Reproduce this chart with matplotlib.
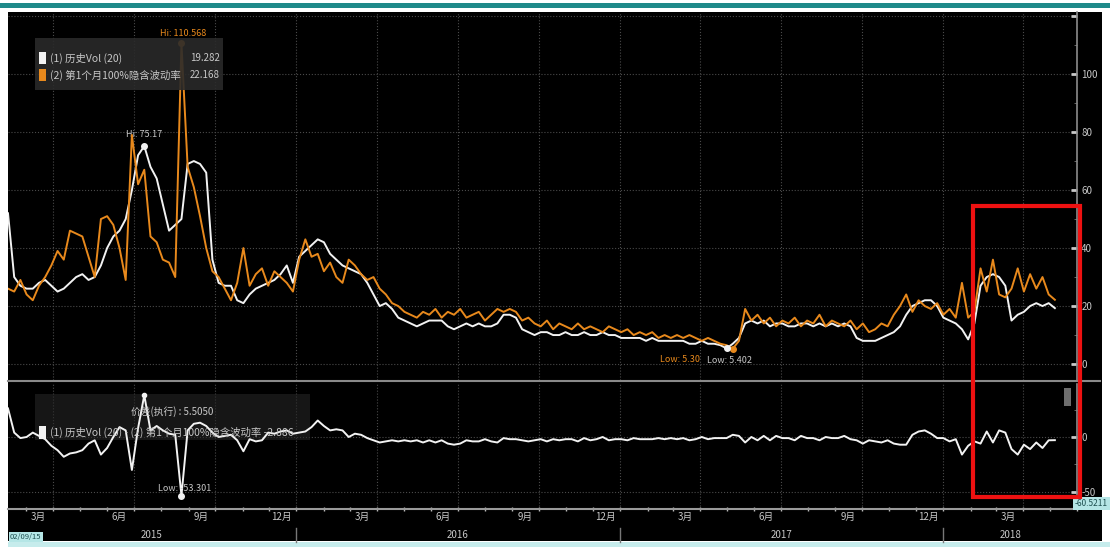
import numpy as np
import pandas as pd
import matplotlib
matplotlib.use('Agg')
import matplotlib.pyplot as plt
import matplotlib.dates as mdates
import matplotlib.transforms as mtransforms
from matplotlib.patches import Rectangle
from matplotlib.lines import Line2D

plt.rcParams['font.family'] = ['Noto Sans CJK SC', 'DejaVu Sans']

# 每周一个点, 2015-02-09 起
dates = pd.date_range('2015-02-09', periods=170, freq='7D')

# (1) 历史Vol (20)
hist_vol = [52, 30, 27, 26, 26, 28, 29, 27, 25, 26,
            28, 30, 31, 29, 30, 34, 40, 44, 46, 50,
            60, 72, 75.17, 68, 64, 55, 46, 48, 50, 69,
            70, 69, 66, 36, 28, 27, 27, 22, 21, 24,
            26, 27, 28, 29, 31, 34, 28, 37, 39, 41,
            43, 42, 38, 36, 34, 33, 32, 31, 28, 24,
            20, 21, 19, 16, 15, 14, 13, 14, 15, 15,
            15, 13, 12, 13, 14, 13, 14, 13, 13, 14,
            17, 17, 16, 12, 11, 10, 11, 11, 10, 10,
            11, 10, 10, 11, 10, 10, 11, 10, 10, 9,
            9, 9, 9, 8, 9, 8, 8, 8, 8, 8,
            7, 7, 8, 7, 7, 6.5, 5.402, 7, 9, 14,
            15, 14, 15, 13, 14, 14, 13, 13, 14, 14,
            13, 14, 13, 14, 13, 14, 13, 9, 8, 8,
            8, 9, 10, 11, 13, 17, 20, 21, 22, 22,
            20, 16, 15, 14, 12, 8.5, 14, 27, 30, 31,
            30, 27, 15, 17, 18, 20, 21, 20, 21, 19.282]

# (2) 第1个月100%隐含波动率
impl_vol = [26, 25, 29, 24, 22, 27, 30, 34, 39, 36,
            46, 45, 44, 37, 30, 50, 51, 48, 40, 29,
            79, 62, 67, 44, 42, 36, 35, 30, 110.568, 68,
            61, 51, 40, 32, 30, 26, 22, 28, 40, 27,
            31, 33, 27, 32, 30, 28, 25, 36, 43, 37,
            38, 32, 35, 30, 28, 36, 34, 31, 29, 30,
            26, 24, 21, 20, 18, 17, 16, 18, 17, 19,
            16, 18, 17, 19, 16, 17, 18, 15, 17, 19,
            18, 19, 18, 15, 16, 14, 13, 15, 12, 14,
            13, 12, 14, 12, 13, 12, 11, 13, 12, 11,
            12, 10, 11, 10, 11, 9, 10, 9, 10, 9,
            10, 9, 8, 9, 8, 7, 6.5, 5.30, 8, 19,
            15, 17, 14, 16, 13, 15, 14, 16, 13, 15,
            14, 17, 13, 15, 14, 13, 15, 12, 14, 11,
            12, 14, 13, 17, 20, 24, 18, 22, 20, 19,
            21, 17, 19, 16, 28, 16, 18, 33, 25, 36,
            24, 23, 26, 33, 25, 31, 26, 30, 24, 22.168]

# (1) - (2)
spread = [26, 4, -1, 0, 4, 1, -2, -8, -12, -18,
          -15, -14, -12, -6, -3, -16, -10, 0, 9, 6,
          -30, 8, 38, 6, 10, 6, 3, 2, -53.301, 6,
          12, 13, 10, 4, 0, 1, 2, -3, -13, -2,
          -4, -3, 4, 3, 5, 6, 3, 4, 5, 9,
          15, 10, 6, 7, 6, 0, 3, 2, -1, -3,
          -5, -4, -3, -4, -3, -4, -3, -5, -3, -5,
          -3, -6, -7, -6, -3, -4, -4, -2, -4, -5,
          -1, -2, -2, -3, -4, -3, -2, -4, -2, -3,
          -2, -2, -4, -1, -3, -2, 0, -3, -2, -2,
          -3, -1, -2, -2, -2, -1, -2, -1, -2, -1,
          -3, -2, 0, -2, -1, -1, -1, 2, 1, -5,
          0, -3, 1, -3, 1, -1, -1, -3, 1, -1,
          -1, -3, 0, -1, -1, 1, -2, -3, -6, -3,
          -4, -5, -3, -6, -7, -7, 2, 5, 6, 3,
          -1, -1, -4, -2, -16, -8, -4, -6, 5, -5,
          6, 4, -11, -16, -7, -11, -5, -10, -3, -2.886]

month_labels = ['3月', '6月', '9月', '12月']
years = [2015, 2016, 2017, 2018]

W, H = 1110, 547
def fx(px):
    return px / W
def fy(py):
    return 1 - py / H

ORANGE = '#e8891c'
WHITE = '#f2f2f2'
GRID = '#4a4a4a'
TXT = '#c8c8c8'

fig = plt.figure(figsize=(11.1, 5.47), dpi=100, facecolor='white')
# 背景
fig.add_artist(Rectangle((fx(8), fy(541)), fx(1102 - 8), (541 - 12) / H, transform=fig.transFigure,
                         facecolor='black', edgecolor='none', zorder=0))
fig.add_artist(Rectangle((fx(0), fy(8)), 1, 5 / H, transform=fig.transFigure,
                         facecolor='#1f8a8a', edgecolor='none', zorder=0))
fig.add_artist(Rectangle((fx(8), fy(547)), 1, 5 / H, transform=fig.transFigure,
                         facecolor='#c6ecec', edgecolor='none', zorder=0))

x0, x1 = pd.Timestamp('2015-02-09'), pd.Timestamp('2018-06-01')
quarters = pd.date_range('2015-04-01', '2018-04-01', freq='QS')

ax1 = fig.add_axes([fx(8), fy(380), fx(1069), 368 / H])
ax2 = fig.add_axes([fx(8), fy(509), fx(1069), 125 / H])
for ax in (ax1, ax2):
    ax.set_facecolor('none')
    ax.set_xlim(x0, x1)
    for s in ['top', 'left', 'bottom']:
        ax.spines[s].set_visible(False)
    ax.spines['right'].set_color('#8c8c8c')
    ax.spines['right'].set_linewidth(1.2)
    ax.yaxis.tick_right()
    for q in quarters:
        ax.axvline(q, color=GRID, ls=':', lw=0.8, zorder=1)

# 上图
ax1.set_ylim(-5.5, 121.4)
ax1.set_yticks([0, 20, 40, 60, 80, 100, 120])
ax1.set_yticklabels(['0', '20', '40', '60', '80', '100', ''])
ax1.set_yticks(np.arange(10, 120, 20), minor=True)
ax1.grid(axis='y', which='major', color=GRID, ls=':', lw=0.8)
ax1.tick_params(axis='y', which='major', colors=TXT, labelsize=7, direction='in', length=4, width=2, pad=3)
ax1.tick_params(axis='y', which='minor', color='#777777', direction='in', length=2)
ax1.tick_params(axis='x', which='both', length=0, labelbottom=False)

ax1.plot(dates, hist_vol, color=WHITE, lw=1.4, zorder=3)
ax1.plot(dates, impl_vol, color=ORANGE, lw=1.4, zorder=4)

i_hi_o = int(np.argmax(impl_vol))
i_hi_w = int(np.argmax(hist_vol))
i_lo_o = int(np.argmin(impl_vol))
i_lo_w = int(np.argmin(hist_vol))
ax1.plot(dates[i_hi_o], impl_vol[i_hi_o], 'o', color=ORANGE, ms=4, zorder=5)
ax1.plot(dates[i_hi_w], hist_vol[i_hi_w], 'o', color=WHITE, ms=4, zorder=5)
ax1.plot(dates[i_lo_o], impl_vol[i_lo_o], 'o', color=ORANGE, ms=4, zorder=5)
ax1.plot(dates[i_lo_w], hist_vol[i_lo_w], 'o', color=WHITE, ms=4, zorder=5)
ax1.annotate(f'Hi: {impl_vol[i_hi_o]}', (dates[i_hi_o], impl_vol[i_hi_o]), xytext=(1, 7),
             textcoords='offset points', ha='center', va='center', fontsize=6.5, color=ORANGE)
ax1.annotate(f'Hi: {hist_vol[i_hi_w]}', (dates[i_hi_w], hist_vol[i_hi_w]), xytext=(0, 8),
             textcoords='offset points', ha='center', va='center', fontsize=6.5, color=TXT)
ax1.annotate(f'Low: {impl_vol[i_lo_o]:.2f}', (dates[i_lo_o], impl_vol[i_lo_o]), xytext=(-38, -8),
             textcoords='offset points', ha='center', va='center', fontsize=6.5, color=ORANGE)
ax1.annotate(f'Low: {hist_vol[i_lo_w]}', (dates[i_lo_w], hist_vol[i_lo_w]), xytext=(2, -9),
             textcoords='offset points', ha='center', va='center', fontsize=6.5, color=TXT)

# 图例
ax1.add_patch(Rectangle(((35 - 8) / 1069, (380 - 90) / 368), 188 / 1069, 52 / 368,
                        transform=ax1.transAxes, facecolor='#2a2a2a', edgecolor='none', alpha=0.9, zorder=6))
legend_rows = [('(1) 历史Vol (20)', f'{hist_vol[-1]}', WHITE, 58),
               ('(2) 第1个月100%隐含波动率', f'{impl_vol[-1]}', ORANGE, 75)]
for name, val, c, py in legend_rows:
    fig.add_artist(Rectangle((fx(39), fy(py + 6)), fx(7), 12 / H, transform=fig.transFigure,
                             facecolor=c, edgecolor='none', zorder=7))
    fig.text(fx(50), fy(py), name, fontsize=7.5, color=TXT, va='center', ha='left', zorder=7)
    fig.text(fx(220), fy(py), val, fontsize=7, color=TXT, va='center', ha='right', zorder=7)

# 下图
ax2.set_ylim(-65.5, 48.2)
ax2.set_yticks([-50, 0])
ax2.set_yticklabels(['-50', '0'])
ax2.set_yticks([-25, 25], minor=True)
ax2.grid(axis='y', which='major', color=GRID, ls=':', lw=0.8)
ax2.tick_params(axis='y', which='major', colors=TXT, labelsize=7, direction='in', length=4, width=2, pad=3)
ax2.tick_params(axis='y', which='minor', color='#777777', direction='in', length=2)
ax2.spines['bottom'].set_visible(True)
ax2.spines['bottom'].set_color('#9a9a9a')
ax2.spines['bottom'].set_linewidth(1.5)

ax2.add_patch(Rectangle(((35 - 8) / 1069, (509 - 440) / 125), 275 / 1069, 46 / 125,
                        transform=ax2.transAxes, facecolor='#262626', edgecolor='none', alpha=0.6, zorder=2))
ax2.plot(dates, spread, color=WHITE, lw=1.4, zorder=3)
i_lo_s = int(np.argmin(spread))
i_hi_s = int(np.argmax(spread))
ax2.plot(dates[i_lo_s], spread[i_lo_s], 'o', color=WHITE, ms=4, zorder=5, clip_on=False)
ax2.plot(dates[i_hi_s], spread[i_hi_s], 'o', color=WHITE, ms=3, zorder=5)
ax2.annotate(f'Low: {spread[i_lo_s]}', (dates[i_lo_s], spread[i_lo_s]), xytext=(2, 5),
             textcoords='offset points', ha='center', va='center', fontsize=6.5, color=TXT)

fig.text(fx(172), fy(412), '价差(执行) : 5.5050', fontsize=7, color=TXT, ha='center', va='center', zorder=7)
fig.add_artist(Rectangle((fx(39), fy(439)), fx(7), 13 / H, transform=fig.transFigure,
                         facecolor=WHITE, edgecolor='none', zorder=7))
fig.text(fx(50), fy(432), f'(1) 历史Vol (20) - (2) 第1个月100%隐含波动率 {spread[-1]}',
         fontsize=7.5, color=TXT, ha='left', va='center', zorder=7)

# 右侧数值框
blend2 = mtransforms.blended_transform_factory(ax2.transAxes, ax2.transData)
ax2.text(0.998, -60.52, '-60.5211', transform=blend2, ha='left', va='center', fontsize=6, color='#1d4f4f',
         bbox=dict(facecolor='#b5e6e6', edgecolor='none', pad=1.2), clip_on=False, zorder=8)
fig.add_artist(Rectangle((fx(1064), fy(406)), fx(7), 18 / H, transform=fig.transFigure,
                         facecolor='#6e6e6e', edgecolor='none', zorder=7))

# x 轴
month_centers = []
month_names = []
for y in years:
    for m, lab in zip([3, 6, 9, 12], month_labels):
        d = pd.Timestamp(year=y, month=m, day=15)
        if x0 < d < pd.Timestamp('2018-04-01'):
            month_centers.append(d)
            month_names.append(lab)
ax2.set_xticks(month_centers)
ax2.set_xticklabels(month_names)
ax2.xaxis.set_minor_locator(mdates.MonthLocator())
ax2.tick_params(axis='x', which='major', length=0, colors=TXT, labelsize=7, pad=2)
ax2.tick_params(axis='x', which='minor', length=3, direction='inout', color='#bbbbbb', width=1)

blendx = mtransforms.blended_transform_factory(ax2.transData, ax2.transAxes)
for y in years:
    a = max(x0, pd.Timestamp(year=y, month=1, day=1))
    b = min(x1, pd.Timestamp(year=y, month=12, day=31))
    ax2.text(a + (b - a) / 2, -0.21, str(y), transform=blendx, ha='center', va='center',
             fontsize=7, color=TXT, clip_on=False)
    if y > 2015:
        ax2.add_line(Line2D([a, a], [-0.15, -0.26], transform=blendx, color='#777777', lw=1, clip_on=False))

fig.text(fx(10), fy(537), '02/09/15', fontsize=5.5, color='#1d4f4f', ha='left', va='center',
         bbox=dict(facecolor='#b5e6e6', edgecolor='none', pad=1))

# 分隔线与红框
fig.add_artist(Line2D([fx(8), fx(1100)], [fy(381), fy(381)], transform=fig.transFigure, color='#8a8a8a', lw=1.5))
fig.add_artist(Rectangle((fx(973), fy(497)), fx(1080 - 973), (497 - 206) / H, transform=fig.transFigure,
                         fill=False, edgecolor='#ee1111', lw=3, zorder=9))

fig.savefig('out.png', dpi=100, facecolor=fig.get_facecolor())
